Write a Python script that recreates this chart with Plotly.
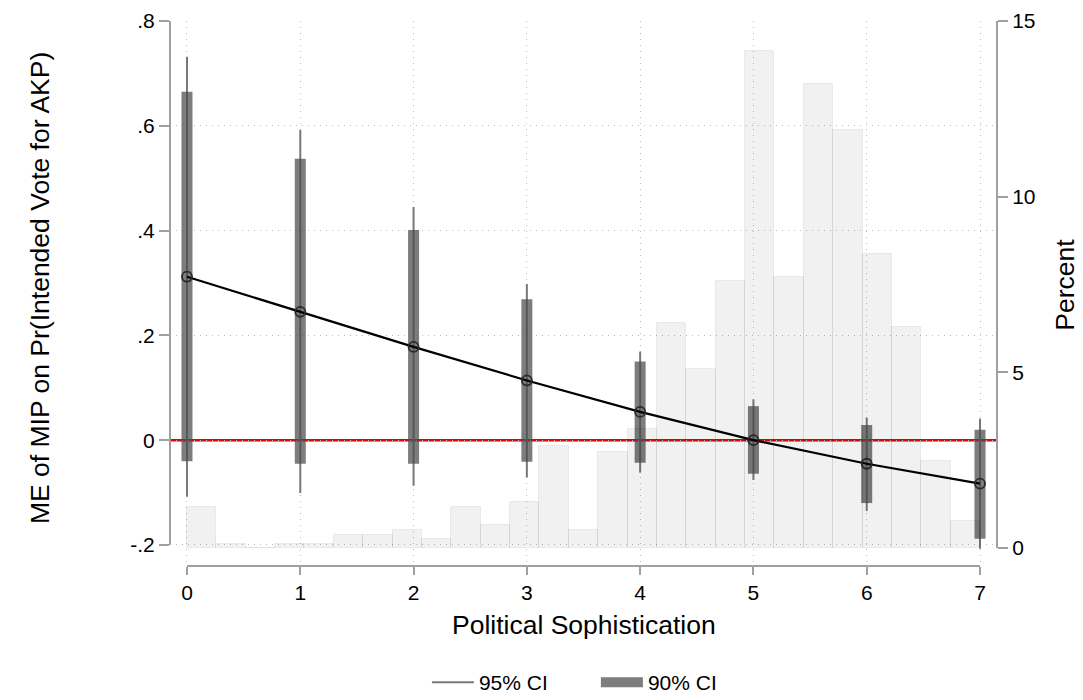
import plotly.graph_objects as go

# ---- data ----
soph = [0, 1, 2, 3, 4, 5, 6, 7]
me = [0.312, 0.245, 0.178, 0.114, 0.054, 0.000, -0.045, -0.083]
ci90_lo = [-0.040, -0.045, -0.045, -0.041, -0.043, -0.064, -0.120, -0.188]
ci90_hi = [0.665, 0.537, 0.401, 0.269, 0.150, 0.065, 0.029, 0.020]
ci95_lo = [-0.108, -0.101, -0.087, -0.071, -0.062, -0.076, -0.135, -0.207]
ci95_hi = [0.732, 0.592, 0.445, 0.298, 0.169, 0.078, 0.043, 0.041]

hist_start = 0.0
hist_width = 7 / 27
hist_pct = [1.18, 0.11, 0.0, 0.11, 0.11, 0.37, 0.37, 0.51, 0.26, 1.18,
            0.66, 1.32, 2.89, 0.51, 2.74, 3.39, 6.41, 5.10, 7.60, 14.16,
            7.72, 13.2, 11.9, 8.38, 6.30, 2.48, 0.78]

x_ticks = [0, 1, 2, 3, 4, 5, 6, 7]
y_ticks = [-0.2, 0, 0.2, 0.4, 0.6, 0.8]
y_ticktext = ['-.2', '0', '.2', '.4', '.6', '.8']
y2_ticks = [0, 5, 10, 15]

FONT = "Liberation Sans, Arial, sans-serif"
AXIS_COL = "#a0a0a0"
GRID_COL = "#bdbdbd"
TITLE_SIZE = 26.5
TICK_SIZE = 21

def segs(xs, lo, hi):
    X, Y = [], []
    for x, a, b in zip(xs, lo, hi):
        X += [x, x, None]
        Y += [a, b, None]
    return X, Y

fig = go.Figure()

# histogram (right axis)
centers = [hist_start + hist_width * (i + 0.5) for i in range(len(hist_pct))]
fig.add_trace(go.Bar(
    x=centers, y=hist_pct, width=hist_width, yaxis="y2",
    marker=dict(color="rgba(0,0,0,0.055)", line=dict(color="rgba(0,0,0,0.06)", width=1)),
    showlegend=False, hoverinfo="skip"))

x95, y95 = segs(soph, ci95_lo, ci95_hi)
fig.add_trace(go.Scatter(x=x95, y=y95, mode="lines", name="95% CI",
                         line=dict(color="rgb(120,120,120)", width=2)))
x90, y90 = segs(soph, ci90_lo, ci90_hi)
fig.add_trace(go.Scatter(x=x90, y=y90, mode="lines", name="90% CI",
                         line=dict(color="rgba(75,75,75,0.72)", width=11)))

fig.add_trace(go.Scatter(x=soph, y=me, mode="lines+markers", showlegend=False,
                         line=dict(color="black", width=2.2),
                         marker=dict(symbol="circle-open", size=10,
                                     color="#2a2a2a", line=dict(width=1.8, color="#2a2a2a"))))

shapes = [
    # zero reference line
    dict(type="line", xref="paper", x0=0, x1=1, yref="y", y0=0, y1=0,
         line=dict(color="rgb(235,0,0)", width=2.4), layer="below"),
    # axis lines spanning tick ranges
    dict(type="line", xref="x", x0=x_ticks[0], x1=x_ticks[-1], yref="paper", y0=0, y1=0,
         line=dict(color=AXIS_COL, width=2)),
    dict(type="line", xref="paper", x0=0, x1=0, yref="y", y0=y_ticks[0], y1=y_ticks[-1],
         line=dict(color=AXIS_COL, width=2)),
    dict(type="line", xref="paper", x0=1, x1=1, yref="y2", y0=y2_ticks[0], y1=y2_ticks[-1],
         line=dict(color=AXIS_COL, width=2)),
]

annotations = [
    dict(text="ME of MIP on Pr(Intended Vote for AKP)", xref="paper", yref="paper",
         x=0, y=0.51, xshift=-130, textangle=-90, showarrow=False,
         xanchor="center", yanchor="middle", font=dict(size=TITLE_SIZE, color="black", family=FONT)),
    dict(text="Percent", xref="paper", yref="paper",
         x=1, y=0.516, xshift=68, textangle=-90, showarrow=False,
         xanchor="center", yanchor="middle", font=dict(size=TITLE_SIZE, color="black", family=FONT)),
    dict(text="Political Sophistication", xref="paper", yref="paper",
         x=0.5, y=0, yshift=-59, showarrow=False,
         xanchor="center", yanchor="middle", font=dict(size=TITLE_SIZE, color="black", family=FONT)),
]

fig.update_layout(
    width=1075, height=692,
    margin=dict(l=162, r=86, t=13, b=134, autoexpand=False),
    paper_bgcolor="white", plot_bgcolor="white",
    font=dict(family=FONT, size=TICK_SIZE, color="black"),
    shapes=shapes, annotations=annotations,
    xaxis=dict(range=[-0.15, 7.15], tickvals=x_ticks, ticks="outside", ticklen=8,
               tickwidth=2, tickcolor=AXIS_COL, showline=False, zeroline=False,
               showgrid=True, gridcolor=GRID_COL, griddash="1px,5px", gridwidth=1),
    yaxis=dict(range=[-0.2401, 0.8], tickvals=y_ticks, ticktext=y_ticktext,
               ticks="outside", ticklen=10, tickwidth=2, tickcolor=AXIS_COL,
               showline=False, zeroline=False, showgrid=True, gridcolor=GRID_COL,
               griddash="1px,5px", gridwidth=1),
    yaxis2=dict(range=[-0.513, 15], tickvals=y2_ticks, overlaying="y", side="right",
                ticks="outside", ticklen=10, tickwidth=2, tickcolor=AXIS_COL,
                showline=False, zeroline=False, showgrid=False),
    legend=dict(orientation="h", x=0.515, xanchor="center", y=-0.214, yanchor="middle",
                font=dict(size=TICK_SIZE), itemwidth=42,
                entrywidth=112, entrywidthmode="pixels"),
    bargap=0,
)

fig.write_html("out.html")
